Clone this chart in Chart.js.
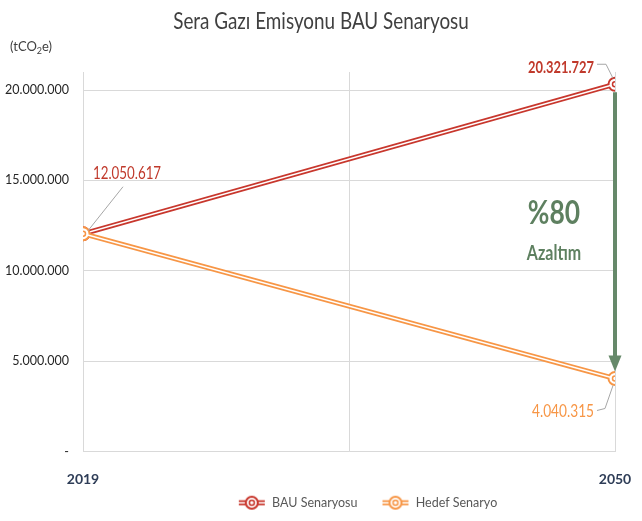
<!DOCTYPE html>
<html>
<head>
<meta charset="utf-8">
<script src="https://cdn.jsdelivr.net/npm/chart.js@4/dist/chart.umd.min.js"></script>
<style>
  html, body { margin: 0; padding: 0; background: #fff; }
  #wrap { width: 642px; height: 521px; }
</style>
</head>
<body>
<div id="wrap"><canvas id="graph"></canvas></div>
<script>
const years = [2019, 2050];
const bauValues = [12050617, 20321727];
const hedefValues = [12050617, 4040315];
const yTicks = [0, 5000000, 10000000, 15000000, 20000000];
const xTicks = [2019, 2034.5, 2050];

const FONT = "Lato, 'Open Sans', sans-serif";
const RED = "#C8372D";
const ORANGE = "#F79646";
const GREEN = "#66896A";

function fmt(v) {
  return String(Math.round(v)).replace(/\B(?=(\d{3})+(?!\d))/g, ".");
}

function pts(vals) {
  return years.map((y, i) => ({ x: y, y: vals[i] }));
}

// text squeezed a bit horizontally, to get closer to the narrow original font
function narrowText(ctx, text, x, y, font, align, sx) {
  ctx.save();
  ctx.font = font;
  ctx.textAlign = align;
  ctx.textBaseline = "middle";
  ctx.translate(x, y);
  ctx.scale(sx, 1);
  ctx.fillText(text, 0, 0);
  ctx.restore();
}

// legend icon: double line with ringed dot, with blank room on the left as item spacing
function legendIcon(color) {
  const c = document.createElement("canvas");
  c.width = 44; c.height = 16;
  const g = c.getContext("2d");
  const ox = 16;
  g.strokeStyle = color; g.lineWidth = 5;
  g.beginPath(); g.moveTo(ox + 1, 8); g.lineTo(ox + 27, 8); g.stroke();
  g.strokeStyle = "#fff"; g.lineWidth = 1.5;
  g.beginPath(); g.moveTo(ox + 1, 8); g.lineTo(ox + 27, 8); g.stroke();
  g.fillStyle = "#fff"; g.strokeStyle = color; g.lineWidth = 2;
  g.beginPath(); g.arc(ox + 14, 8, 6, 0, Math.PI * 2); g.fill(); g.stroke();
  g.lineWidth = 1.5;
  g.beginPath(); g.arc(ox + 14, 8, 2.5, 0, Math.PI * 2); g.stroke();
  return c;
}

const extras = {
  id: "extras",
  afterLayout(chart) {
    // legend sits a bit right of centre in the original
    chart.legend.left += 52;
    chart.legend.right += 52;
  },
  afterDraw(chart) {
    const ctx = chart.ctx;
    const xs = chart.scales.x, ys = chart.scales.y;
    ctx.save();

    // title + unit
    ctx.fillStyle = "#404040";
    narrowText(ctx, "Sera Gazı Emisyonu BAU Senaryosu", 321, 22, "23px " + FONT, "center", 0.82);
    ctx.font = "13px " + FONT;
    ctx.textBaseline = "middle";
    ctx.textAlign = "left";
    ctx.fillText("(tCO", 10, 47);
    let w = ctx.measureText("(tCO").width;
    ctx.font = "9px " + FONT;
    ctx.fillText("2", 10 + w, 51);
    let w2 = ctx.measureText("2").width;
    ctx.font = "13px " + FONT;
    ctx.fillText("e)", 10 + w + w2, 47);

    const x0 = xs.getPixelForValue(years[0]), x1 = xs.getPixelForValue(years[1]);
    const yStart = ys.getPixelForValue(bauValues[0]);
    const yBau = ys.getPixelForValue(bauValues[1]);
    const yHed = ys.getPixelForValue(hedefValues[1]);

    // reduction arrow
    ctx.strokeStyle = GREEN; ctx.fillStyle = GREEN; ctx.lineWidth = 4;
    ctx.beginPath(); ctx.moveTo(x1, yBau + 8); ctx.lineTo(x1, yHed - 20); ctx.stroke();
    ctx.beginPath();
    ctx.moveTo(x1 - 6.5, yHed - 23); ctx.lineTo(x1 + 6.5, yHed - 23); ctx.lineTo(x1, yHed - 7);
    ctx.closePath(); ctx.fill();
    const mid = (yBau + yHed) / 2;
    ctx.fillStyle = "#5E8060";
    narrowText(ctx, "%80", x1 - 61, mid - 18, "bold 33px " + FONT, "center", 0.8);
    narrowText(ctx, "Azaltım", x1 - 61, mid + 22, "bold 20px " + FONT, "center", 0.8);

    // data labels with leader lines
    ctx.strokeStyle = "#A6A6A6"; ctx.lineWidth = 1;
    ctx.beginPath(); ctx.moveTo(x0 + 40, yStart - 47); ctx.lineTo(x0 + 5, yStart - 3); ctx.stroke();
    ctx.beginPath(); ctx.moveTo(x1 - 18, yBau - 20); ctx.lineTo(x1 - 9, yBau - 20); ctx.lineTo(x1 - 2, yBau - 6); ctx.stroke();
    ctx.beginPath(); ctx.moveTo(x1 - 18, yHed + 32); ctx.lineTo(x1 - 10, yHed + 30); ctx.lineTo(x1 - 2, yHed + 7); ctx.stroke();

    ctx.fillStyle = "#C0392B";
    narrowText(ctx, fmt(bauValues[0]), x0 + 10, yStart - 61, "18px " + FONT, "left", 0.74);
    narrowText(ctx, fmt(bauValues[1]), x1 - 21, yBau - 17, "bold 17px " + FONT, "right", 0.76);
    ctx.fillStyle = ORANGE;
    narrowText(ctx, fmt(hedefValues[1]), x1 - 21, yHed + 33, "18px " + FONT, "right", 0.76);
    ctx.restore();
  }
};

new Chart(document.getElementById("graph"), {
  type: "line",
  data: {
    datasets: [
      { label: "BAU Senaryosu", data: pts(bauValues), borderColor: RED, borderWidth: 5,
        pointRadius: 6.5, pointBorderWidth: 2, pointBorderColor: RED, pointBackgroundColor: "#fff", order: 4 },
      { label: "Hedef Senaryo", data: pts(hedefValues), borderColor: ORANGE, borderWidth: 5,
        pointRadius: 6.5, pointBorderWidth: 2, pointBorderColor: ORANGE, pointBackgroundColor: "#fff", order: 2 },
      { label: "bau-inner", data: pts(bauValues), borderColor: "#fff", borderWidth: 1.5,
        pointRadius: 2.5, pointBorderWidth: 1.5, pointBorderColor: RED, pointBackgroundColor: "#fff", order: 3 },
      { label: "hedef-inner", data: pts(hedefValues), borderColor: "#fff", borderWidth: 1.5,
        pointRadius: 2.5, pointBorderWidth: 1.5, pointBorderColor: ORANGE, pointBackgroundColor: "#fff", order: 1 }
    ]
  },
  options: {
    responsive: true,
    maintainAspectRatio: false,
    animation: false,
    layout: { padding: { top: 72, right: 27, left: 0, bottom: 2 } },
    plugins: {
      tooltip: { enabled: false },
      legend: {
        position: "bottom",
        labels: {
          filter: (item) => item.datasetIndex < 2,
          sort: (a, b) => a.datasetIndex - b.datasetIndex,
          usePointStyle: true,
          pointStyleWidth: 44,
          generateLabels: (chart) => chart.data.datasets.map((ds, i) => ({
            text: ds.label, datasetIndex: i, fontColor: "#595959",
            pointStyle: legendIcon(i === 0 ? RED : ORANGE),
            strokeStyle: "transparent", fillStyle: "transparent", lineWidth: 0
          })),
          font: { family: FONT, size: 12.5 },
          color: "#595959",
          padding: 8,
          boxHeight: 16
        }
      }
    },
    scales: {
      x: {
        type: "linear",
        min: 2019, max: 2050,
        afterBuildTicks: (axis) => { axis.ticks = xTicks.map(v => ({ value: v })); },
        afterFit: (axis) => { axis.height = 37; axis.paddingLeft = 0; axis.paddingRight = 0; },
        ticks: {
          callback: (v) => (years.includes(v) ? String(v) : ""),
          font: { family: FONT, size: 14, weight: "bold" },
          color: "#2E3D57",
          padding: 20,
          maxRotation: 0,
          autoSkip: false
        },
        grid: { color: "#D9D9D9", drawTicks: false },
        border: { color: "#D9D9D9" }
      },
      y: {
        min: 0, max: 21000000,
        afterBuildTicks: (axis) => { axis.ticks = yTicks.map(v => ({ value: v })); },
        afterFit: (axis) => { axis.width = 83; },
        ticks: {
          callback: (v) => (v === 0 ? "-" : fmt(v)),
          font: { family: FONT, size: 12.5 },
          color: "#262626",
          padding: 14
        },
        grid: { color: "#D9D9D9", drawTicks: false },
        border: { color: "#D9D9D9" }
      }
    }
  },
  plugins: [extras]
});
</script>
</body>
</html>
